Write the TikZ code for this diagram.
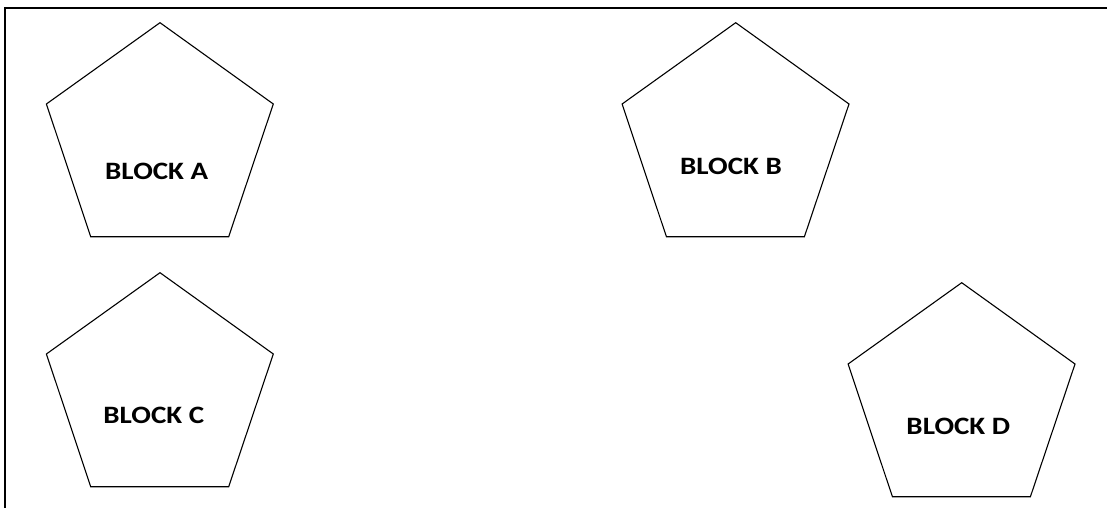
\documentclass[tikz,border=0pt]{standalone}
\usepackage{fontspec}
\setmainfont{Carlito}
\tikzset{
  pent/.style={draw=black, line width=1.1pt, line join=miter},
  frameline/.style={draw=black, line width=2pt},
  blocklabel/.style={inner sep=0pt, font=\bfseries\fontsize{25}{28}\selectfont}
}
\newcommand{\pentagonat}[3]{%
  \coordinate (#3) at (#1,#2);
  \draw[pent] (#3) -- ++(113.3,81.3) -- ++(-44.6,132.7) -- ++(-138,0) -- ++(-44.3,-132.7) -- cycle;
}
\newcommand{\blocktext}[1]{\scalebox{1.16}[1]{#1}}
\begin{document}
\begin{tikzpicture}[x=1pt,y=-1pt]
  \useasboundingbox (0,0) rectangle (1107,508);
  \fill[white] (0,0) rectangle (1107,508);
  % frame (top and left only)
  \coordinate (ftl) at (5,7.8);
  \coordinate (ftr) at (1107,7.8);
  \coordinate (fbl) at (5,508);
  \draw[frameline] (ftr) -- (ftl) -- (fbl);
  % pentagons
  \pentagonat{160}{22.7}{pa}
  \pentagonat{735.7}{22.7}{pb}
  \pentagonat{160}{272.7}{pc}
  \pentagonat{961.7}{282.7}{pd}
  % labels
  \node[blocklabel] (la) at (156.7,171) {\blocktext{BLOCK A}};
  \node[blocklabel] (lb) at (731,166) {\blocktext{BLOCK B}};
  \node[blocklabel] (lc) at (153.8,415.3) {\blocktext{BLOCK C}};
  \node[blocklabel] (ld) at (958.3,426) {\blocktext{BLOCK D}};
\end{tikzpicture}
\end{document}
